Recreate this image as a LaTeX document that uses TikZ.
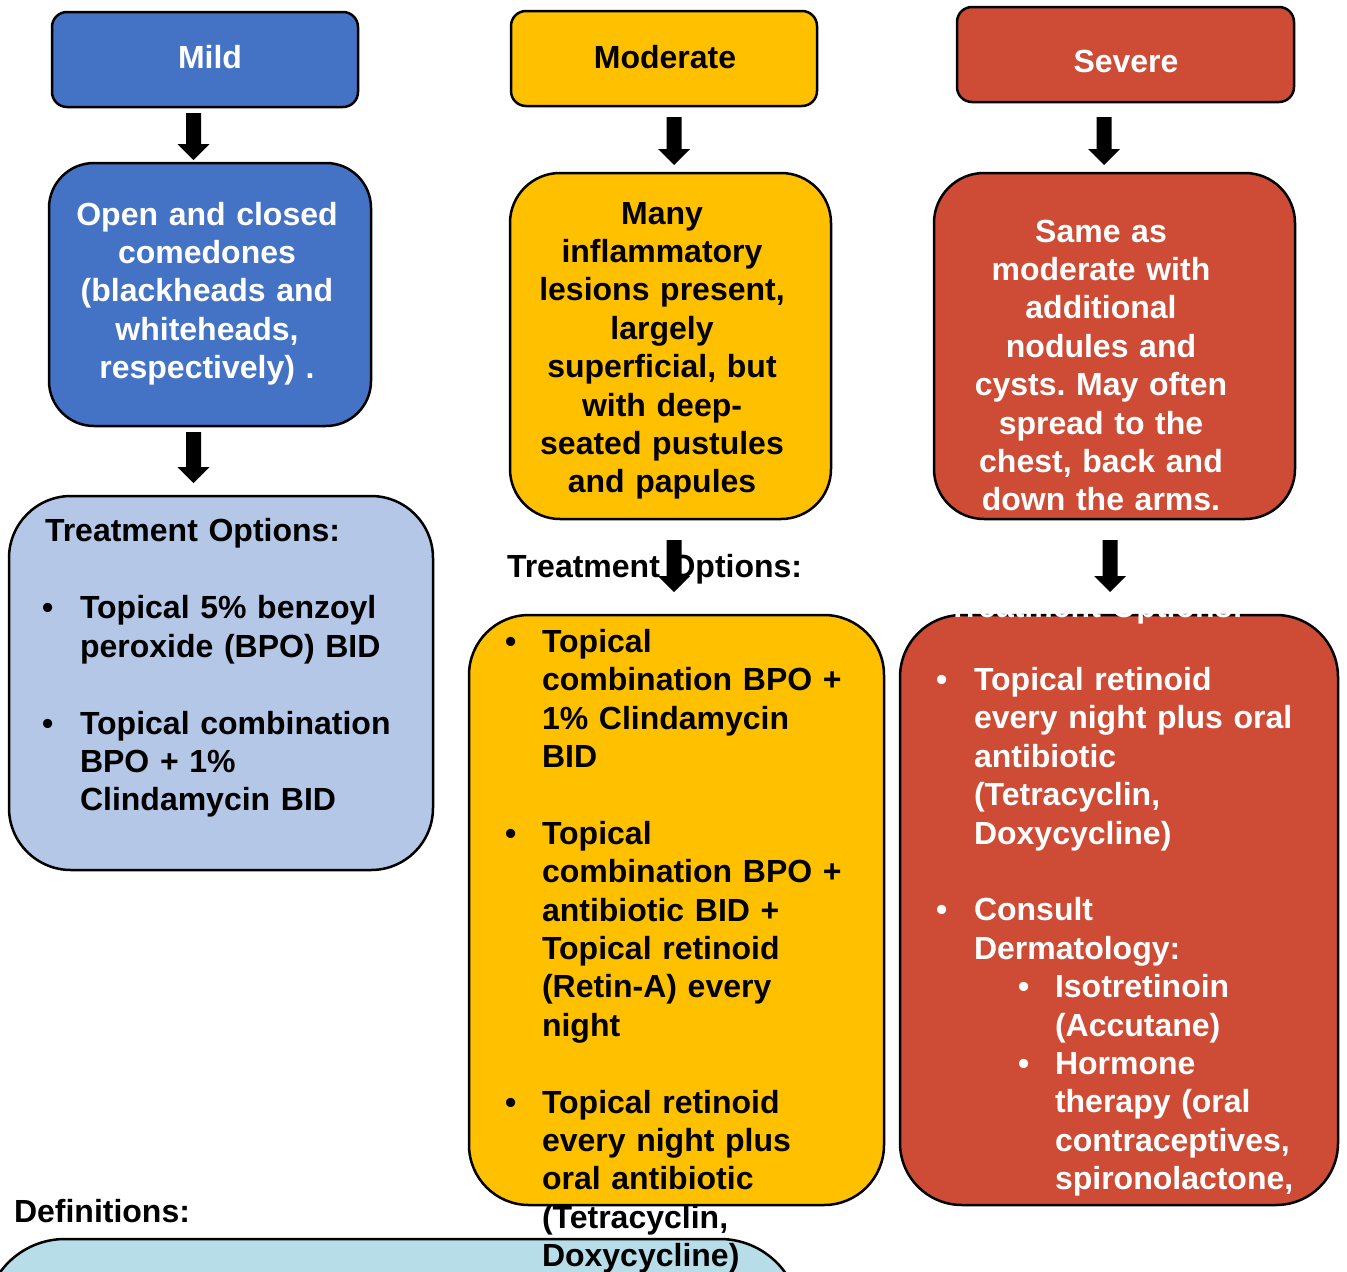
\documentclass[tikz,border=0pt]{standalone}
\usepackage{fontspec}
\setmainfont{Liberation Sans}
\usetikzlibrary{calc}
\frenchspacing

\definecolor{mildblue}{HTML}{4472C4}
\definecolor{modgold}{HTML}{FFC000}
\definecolor{sevred}{HTML}{CE4B35}
\definecolor{paleblue}{HTML}{B4C7E7}
\definecolor{palecyan}{HTML}{B7DEE8}

% Filled block arrow pointing down: #1 = top of the shaft, #2 = tip
\newcommand\blockarrow[2]{%
  \fill[black] let \p1=#1, \p2=#2 in
    (\x1-7.5pt,\y1) -- (\x1+7.5pt,\y1) -- (\x1+7.5pt,\y2+16pt) --
    (\x1+16pt,\y2+16pt) -- (\x1,\y2) -- (\x1-16pt,\y2+16pt) --
    (\x1-7.5pt,\y2+16pt) -- cycle;}

\begin{document}
\begin{tikzpicture}[x=1pt,y=-1pt,
  every node/.style={inner sep=0pt, outer sep=0pt,
    font=\fontsize{32}{38.4}\selectfont\bfseries},
  box/.style={draw=black, line width=2.5pt, rectangle},
  ctext/.style={anchor=base, text width=420pt, align=center},
  ltext/.style={anchor=base west, text width=400pt, align=left},
  bul/.style={anchor=base west},
]
\useasboundingbox (0,0) rectangle (1347,1272);

% ---------- boxes ----------
\node[box, fill=mildblue, rounded corners=15pt, minimum width=306pt, minimum height=95pt] (mild) at (205,59.5) {};
\node[box, fill=modgold, rounded corners=15pt, minimum width=306pt, minimum height=95pt] (moderate) at (664,58.5) {};
\node[box, fill=sevred, rounded corners=15pt, minimum width=337pt, minimum height=95pt] (severe) at (1125.5,54.5) {};

\node[box, fill=mildblue, rounded corners=45pt, minimum width=322pt, minimum height=263pt] (open) at (210,294.5) {};
\node[box, fill=modgold, rounded corners=50pt, minimum width=321pt, minimum height=346pt] (many) at (670.5,346) {};
\node[box, fill=sevred, rounded corners=50pt, minimum width=361pt, minimum height=346pt] (same) at (1114.5,346) {};

\node[box, fill=paleblue, rounded corners=62pt, minimum width=424pt, minimum height=374pt] (mildtx) at (221,683) {};
\node[box, fill=modgold, rounded corners=60pt, minimum width=415pt, minimum height=590pt] (modtx) at (676.5,910) {};
\node[box, fill=sevred, rounded corners=62pt, minimum width=438pt, minimum height=590pt] (sevtx) at (1119,910) {};

\node[box, fill=palecyan, rounded corners=80pt, minimum width=815pt, minimum height=361pt] (defs) at (392.5,1419.5) {};

% ---------- headers ----------
\node[ctext, text=white] (mildT) at (210,68) {Mild};
\node[ctext, text=black] (moderateT) at (665,68) {Moderate};
\node[ctext, text=white] (severeT) at (1126,72) {Severe};

% ---------- descriptions ----------
\node[ctext, text=white] (openT) at (207,225)
  {Open and closed\\comedones\\(blackheads and\\whiteheads,\\respectively) .};
\node[ctext, text=black] (manyT) at (662,224)
  {Many\\inflammatory\\lesions present,\\largely\\superficial, but\\with deep-\\seated pustules\\and papules};
\node[ctext, text=white] (sameT) at (1101,242)
  {Same as\\moderate with\\additional\\nodules and\\cysts. May often\\spread to the\\chest, back and\\down the arms.};

% ---------- mild treatment ----------
\node[ltext] (mildH) at (45,541) {Treatment Options:};
\node[bul] (mb1) at (42,618.8) {•};
\node[ltext] (mi1) at (80,618.8) {Topical 5\% benzoyl\\peroxide (BPO) BID};
\node[bul] (mb2) at (42,734) {•};
\node[ltext] (mi2) at (80,734) {Topical combination\\BPO + 1\%\\Clindamycin BID};

% ---------- moderate treatment ----------
\node[ltext] (modH) at (507,577) {Treatment Options:};
\node[bul] (ob1) at (505,652.2) {•};
\node[ltext] (oi1) at (542,652.2) {Topical\\combination BPO +\\1\% Clindamycin\\BID};
\node[bul] (ob2) at (505,844.2) {•};
\node[ltext] (oi2) at (542,844.2) {Topical\\combination BPO +\\antibiotic BID +\\Topical retinoid\\(Retin-A) every\\night};
\node[bul] (ob3) at (505,1113) {•};
\node[ltext] (oi3) at (542,1113) {Topical retinoid\\every night plus\\oral antibiotic\\(Tetracyclin,\\Doxycycline)};

% ---------- severe treatment ----------
\node[ltext, text=white] (sevH) at (948,617.5) {Treatment Options:};
\node[bul, text=white] (sb1) at (936,690.5) {•};
\node[ltext, text=white] (si1) at (974,690.5) {Topical retinoid\\every night plus oral\\antibiotic\\(Tetracyclin,\\Doxycycline)};
\node[bul, text=white] (sb2) at (936,920.9) {•};
\node[ltext, text=white] (si2) at (974,920.9) {Consult\\Dermatology:};
\node[bul, text=white] (sb3) at (1018,997.7) {•};
\node[ltext, text=white] (si3) at (1055,997.7) {Isotretinoin\\(Accutane)};
\node[bul, text=white] (sb4) at (1018,1074.5) {•};
\node[ltext, text=white] (si4) at (1055,1074.5) {Hormone\\therapy (oral\\contraceptives,\\spironolactone,};

% ---------- definitions ----------
\node[ltext] (defsH) at (14,1222) {Definitions:};

% ---------- arrows ----------
\coordinate (colA) at (193.5,0);
\coordinate (colB) at (674,0);
\coordinate (colC) at (1104,0);
\coordinate (colD) at (1110,0);

\blockarrow{($(colA |- mild.south)+(0,6)$)}{($(colA |- open.north)+(0,-3)$)}
\blockarrow{($(colA |- open.south)+(0,6)$)}{($(colA |- mildtx.north)+(0,-13)$)}
\blockarrow{($(colB |- moderate.south)+(0,11)$)}{($(colB |- many.north)+(0,-8)$)}
\blockarrow{($(colC |- severe.south)+(0,15)$)}{($(colC |- same.north)+(0,-8)$)}
\blockarrow{($(colB |- many.south)+(0,21)$)}{($(colB |- modtx.north)+(0,-23)$)}
\blockarrow{($(colD |- same.south)+(0,21)$)}{($(colD |- sevtx.north)+(0,-23)$)}
\end{tikzpicture}
\end{document}
